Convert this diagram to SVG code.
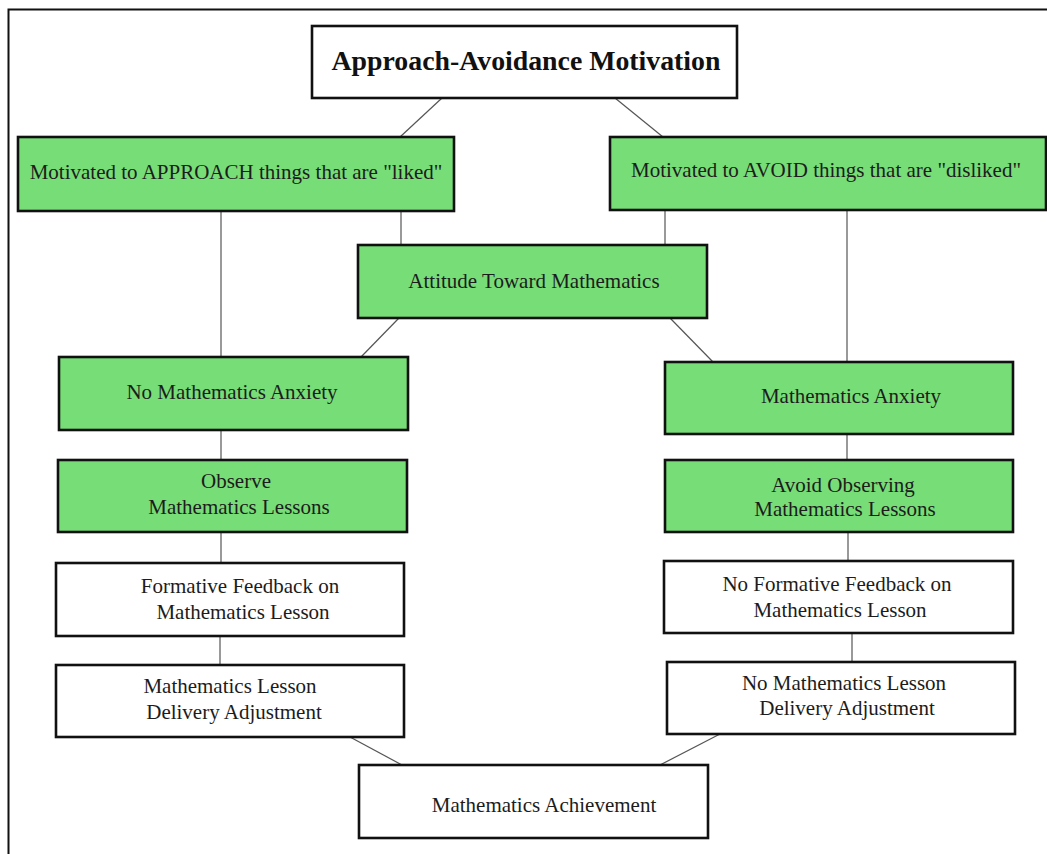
<svg xmlns="http://www.w3.org/2000/svg" width="1047" height="854" viewBox="0 0 1047 854">
<style>
.box{stroke:#111;stroke-width:2.6;}
.g{fill:#77dd77;}
.w{fill:#ffffff;}
.t{font-family:"Liberation Serif","Times New Roman",serif;font-size:21px;fill:#1c1c1c;text-anchor:middle;}
.title{font-family:"Liberation Serif","Times New Roman",serif;font-size:27.8px;font-weight:bold;fill:#111;text-anchor:middle;}
.c line{stroke:#555;stroke-width:1.2;}
</style>
<rect x="0" y="0" width="1047" height="854" fill="#ffffff"/>
<path d="M8.5 854 V9.5 H1047" fill="none" stroke="#111" stroke-width="2"/>
<g class="c">
<line x1="442" y1="98" x2="400" y2="137"/>
<line x1="615" y1="98" x2="663" y2="137"/>
<line x1="221" y1="211" x2="221" y2="357"/>
<line x1="401" y1="211" x2="401" y2="245"/>
<line x1="665" y1="210" x2="665" y2="245"/>
<line x1="847" y1="210" x2="847" y2="362"/>
<line x1="399" y1="318" x2="361" y2="357"/>
<line x1="670" y1="318" x2="713" y2="362"/>
<line x1="221" y1="430" x2="221" y2="460"/>
<line x1="847" y1="434" x2="847" y2="460"/>
<line x1="221" y1="532" x2="221" y2="563"/>
<line x1="848" y1="532" x2="848" y2="561"/>
<line x1="220" y1="636" x2="220" y2="665"/>
<line x1="852" y1="633" x2="852" y2="662"/>
<line x1="350" y1="737" x2="402" y2="765"/>
<line x1="720" y1="734" x2="660" y2="765"/>
</g>
<g id="title"><rect class="box w" x="312" y="26" width="425" height="72"/><text class="title" x="526" y="70">Approach-Avoidance Motivation</text></g>
<g id="approach"><rect class="box g" x="18" y="137" width="436" height="74"/><text class="t" x="236" y="179">Motivated to APPROACH things that are "liked"</text></g>
<g id="avoid"><rect class="box g" x="610" y="137" width="436" height="73"/><text class="t" x="826" y="177">Motivated to AVOID things that are "disliked"</text></g>
<g id="attitude"><rect class="box g" x="358" y="245" width="349" height="73"/><text class="t" x="534" y="288">Attitude Toward Mathematics</text></g>
<g id="no-anxiety"><rect class="box g" x="59" y="357" width="349" height="73"/><text class="t" x="232" y="399">No Mathematics Anxiety</text></g>
<g id="anxiety"><rect class="box g" x="665" y="362" width="348" height="72"/><text class="t" x="851" y="403">Mathematics Anxiety</text></g>
<g id="observe"><rect class="box g" x="58" y="460" width="349" height="72"/><text class="t" x="236" y="488">Observe</text><text class="t" x="239" y="514">Mathematics Lessons</text></g>
<g id="avoid-observe"><rect class="box g" x="665" y="460" width="348" height="72"/><text class="t" x="843" y="492">Avoid Observing</text><text class="t" x="845" y="516">Mathematics Lessons</text></g>
<g id="feedback"><rect class="box w" x="56" y="563" width="348" height="73"/><text class="t" x="240" y="593">Formative Feedback on</text><text class="t" x="243" y="619">Mathematics Lesson</text></g>
<g id="no-feedback"><rect class="box w" x="664" y="561" width="349" height="72"/><text class="t" x="837" y="591">No Formative Feedback on</text><text class="t" x="840" y="617">Mathematics Lesson</text></g>
<g id="delivery"><rect class="box w" x="56" y="665" width="348" height="72"/><text class="t" x="230" y="693">Mathematics Lesson</text><text class="t" x="234" y="719">Delivery Adjustment</text></g>
<g id="no-delivery"><rect class="box w" x="667" y="662" width="348" height="72"/><text class="t" x="844" y="690">No Mathematics Lesson</text><text class="t" x="847" y="715">Delivery Adjustment</text></g>
<g id="achievement"><rect class="box w" x="359" y="765" width="349" height="73"/><text class="t" x="544" y="812">Mathematics Achievement</text></g>
</svg>
